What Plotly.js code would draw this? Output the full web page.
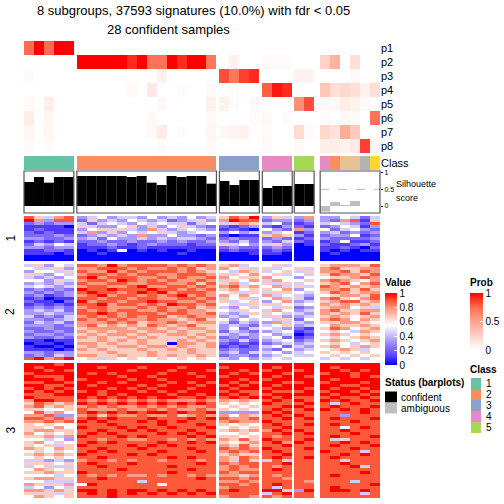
<!DOCTYPE html>
<html><head><meta charset="utf-8">
<script src="https://cdn.plot.ly/plotly-3.0.1.min.js"></script>
<style>html,body{margin:0;padding:0;background:#fff}</style>
</head><body><div id="chart" style="width:504px;height:504px"></div>
<script>
// ---------------- data ----------------
const groupSizes = [5, 14, 4, 3, 2, 6];
const sampleClass = [1,1,1,1,1, 2,2,2,2,2,2,2,2,2,2,2,2,2,2, 3,3,3,3, 4,4,4, 5,5, 4,2,7,7,8,6];
const sampleStatus = [
  'confident','confident','confident','confident','confident',
  'confident','confident','confident','confident','confident','confident','confident','confident','confident','confident','confident','confident','confident','confident',
  'confident','confident','confident','confident','confident','confident','confident','confident','confident',
  'ambiguous','ambiguous','ambiguous','ambiguous','ambiguous','ambiguous'];
const silhouette = [0.72,0.87,0.70,0.87,0.87,
  0.90,0.90,0.90,0.90,0.90,0.87,0.90,0.70,0.63,0.90,0.87,0.90,0.90,0.67,
  0.75,0.63,0.78,0.78, 0.54,0.60,0.60, 0.66,0.66,
  -0.17,0.12,0.03,0.15,0,0];
const probLabels = ['p1','p2','p3','p4','p5','p6','p7','p8'];
const p1 = [0.75,1,0.75,1,1, 0,0,0,0,0,0,0,0,0,0,0,0,0,0, 0,0,0,0, 0,0,0, 0,0, 0,0,0,0,0,0];
const p2 = [0,0,0,0,0, 1,1,1,1,1,0.9,1,0.72,0.72,1,0.9,1,1,0.7, 0,0.08,0,0, 0.04,0.02,0.02, 0,0, 0.25,0.42,0,0.18,0,0];
const p3 = [0.03,0,0,0,0, 0,0,0,0,0,0,0,0,0.08,0,0,0,0,0, 0.82,0.7,0.85,0.9, 0,0,0, 0.08,0.07, 0,0,0,0.03,0,0];
const p4 = [0,0,0,0,0, 0,0,0,0,0,0.04,0,0.12,0,0,0.02,0,0,0.03, 0,0.02,0,0, 0.78,0.95,0.9, 0,0, 0.32,0.18,0.22,0.18,0.08,0.18];
const p5 = [0.03,0,0.1,0,0, 0,0,0,0,0,0,0,0,0.04,0,0,0,0,0.08, 0.08,0.02,0,0.03, 0,0,0, 0.58,0.82, 0.04,0.04,0.1,0.08,0.02,0];
const p6 = [0.1,0,0.05,0,0, 0,0,0,0,0,0,0,0.04,0,0,0,0,0,0.04, 0,0,0,0.02, 0.04,0,0.02, 0,0, 0.02,0,0.04,0.03,0,0.72];
const p7 = [0.05,0,0.05,0,0, 0,0,0,0,0,0,0,0.03,0.1,0,0.02,0,0,0.05, 0.04,0.06,0.07,0, 0.02,0,0, 0.2,0.04, 0.22,0.16,0.45,0.3,0,0];
const p8 = [0.03,0,0.02,0,0, 0,0,0,0,0,0,0,0,0.03,0,0,0,0,0.04, 0,0,0,0, 0.04,0,0, 0.03,0, 0.1,0.1,0.08,0.12,0.85,0.05];
const classNames = ['1','2','3','4','5','6','7','8'];
const classColors = ['#66C2A5','#FC8D62','#8DA0CB','#E78AC3','#A6D854','#FFD92F','#E5C494','#B3B3B3'];
const rowGroupLabels = ['1','2','3'];
// signature values, one digit per sample (0 -> 0, 9 -> 1), groups separated by spaces
const valuesGroup1 = [
"86478 34534435343534 6879 364 37 335424",
"97388 26343543423463 7988 233 23 327816",
"23233 42454354544245 4676 452 12 454328",
"11110 64335634356432 2123 213 21 235413",
"12111 35646437434543 1210 532 73 524532",
"21211 47363545643455 3534 345 12 342323",
"22232 23434373353323 1011 676 31 233512",
"33223 34253343434432 2322 232 12 322223",
"12121 22322322323223 3242 324 21 125112",
"24354 12232123222122 6453 463 01 211231",
"33233 11121121111111 2322 232 00 112102",
"11221 01015010100100 1211 121 00 101011",
"11101 00100000001000 0001 110 00 010000",
"00000 00000000000000 0000 000 00 000000",
"00000 00000000000000 0000 000 00 000000"];
const valuesGroup2 = [
"46354 88797888878787 6745 564 55 677768",
"54463 77888787787867 7564 645 64 786677",
"35546 87797878887876 5476 456 46 778687",
"64354 78878788778887 6657 564 54 687768",
"43435 89788877878778 7566 755 35 566787",
"55364 78879878787787 4657 475 56 787657",
"34343 87788778877868 6745 646 45 678578",
"45434 78877897788787 7867 574 64 876767",
"23232 98898889887878 6756 657 35 778686",
"32323 89887898978887 5646 466 54 687677",
"23123 78978878789787 7575 745 43 567768",
"12011 88788788778878 4564 574 62 786578",
"21102 97887889887787 6456 357 34 678867",
"12121 88978878798878 5646 665 45 767676",
"23232 78877787877867 4354 546 23 677564",
"34342 87878877878776 5465 475 34 786677",
"33433 88987888788778 4346 654 43 767686",
"42324 78787878867877 3435 463 34 676567",
"33234 87878778776786 5354 546 25 787576",
"24342 77787867787677 4243 374 43 667765",
"33323 78676768767866 3432 456 34 576676",
"22322 67777677676776 3524 543 21 687567",
"32232 76767767767667 2432 345 12 565476",
"23323 67677676677676 4343 534 01 676565",
"32232 76766767666767 2323 452 12 565676",
"11011 66767676667676 3242 345 23 676567",
"01101 77676676607767 2121 234 34 565456",
"10010 67667767767667 1212 452 43 675676",
"11101 76766676676766 2322 325 34 567645",
"33233 66676667666766 3424 453 45 656565",
"23243 77667667676676 2332 345 44 565656",
"89789 56465655656565 4353 454 55 454545"];
const valuesGroup3 = [
"99989 99999999999999 9999 999 99 999999",
"98999 99899989998999 8999 989 99 989999",
"99898 99999899989998 9989 899 89 998989",
"89999 98989999899899 9898 998 99 899899",
"98889 99998998999989 8999 989 98 999898",
"99989 89999899899999 9989 899 99 989999",
"88998 99898999989898 9898 998 89 899989",
"99889 98999989899989 8989 989 99 998899",
"89898 99989898999899 9899 899 98 989989",
"98989 89899989898999 8988 988 89 899898",
"88899 99898999989989 9898 899 99 989989",
"98888 98989898998898 8989 989 88 898898",
"79988 87878787877787 7676 898 98 989889",
"68767 98989898989898 6565 988 89 848988",
"78676 78787787878778 5656 889 98 898889",
"66556 87778778787787 6565 898 89 989898",
"58475 89898989989889 3333 989 88 888898",
"77833 78687787786787 7576 898 98 883888",
"88787 89898889888989 8778 889 89 898889",
"77878 98988898989888 7877 988 88 888988",
"65655 88898888988898 6565 898 89 898888",
"66575 98889898898889 5656 889 88 885898",
"67766 88988989888988 6767 798 98 889888",
"75656 89898888989898 5565 889 89 888988",
"66747 98889898888989 6656 878 88 898889",
"55453 88788778878787 7686 988 89 846888",
"67565 89898888988989 6567 897 98 889898",
"65646 98888989898888 7686 889 88 898889",
"76576 88988898888988 8787 988 89 888988",
"56565 89898888988898 7878 898 88 988848",
"67676 98888989888888 6766 889 88 889898",
"56565 88988888898988 7687 898 89 898888",
"44343 78878788788878 7486 484 88 884888",
"66656 89888988888898 8788 889 88 889888",
"45444 88988888898888 7878 878 88 888948",
"57656 88889888888988 7877 898 88 888888",
"66766 98888888898888 8788 888 88 888898",
"55545 87878778788787 7767 878 88 898888",
"67766 88988888888898 8878 887 88 888888",
"55444 88888848888888 7787 888 87 888488",
"76667 59888888588888 8878 898 88 888889",
"45354 88888888888888 7888 848 88 898888",
"77676 99898998989898 8988 994 39 899898",
"66646 89898989898989 8888 489 88 888848",
"57656 88898888888888 7887 878 88 888888"];

// ---------------- geometry (pixels) ----------------
const colW = 9.97, colGaps = [3,3,3,2,6], xStart = 24;
const probTop = 41, probRowH = 14;
const classTop = 156, classBottom = 170;
const silTop = 171, silBottom = 213, silMin = -0.21, silMax = 1.05;
const mainTop = 216, mainRowH = 3, mainGapRows = 1;

const xEdges = [xStart], xCenters = [], groupSpans = [];
let xc = xStart;
groupSizes.forEach((n, g) => {
  const s = xc;
  for (let i = 0; i < n; i++) { xCenters.push(xc + colW / 2); xc += colW; xEdges.push(xc); }
  groupSpans.push([s, xc]);
  if (g < groupSizes.length - 1) { xc += colGaps[g]; xEdges.push(xc); }
});
const xEnd = xc;
function withGaps(vals) {
  const out = []; let k = 0;
  groupSizes.forEach((n, g) => {
    for (let i = 0; i < n; i++) out.push(vals[k++]);
    if (g < groupSizes.length - 1) out.push(null);
  });
  return out;
}
function parseRow(s) {
  const parts = s.trim().split(/\s+/);
  if (parts.length !== groupSizes.length) throw new Error('bad row ' + s);
  const vals = [];
  parts.forEach((p, g) => {
    if (p.length !== groupSizes[g]) throw new Error('bad group len in ' + s);
    for (const ch of p) vals.push(parseInt(ch, 10) / 9);
  });
  return withGaps(vals);
}
const mainZ = [], mainY = [mainTop], groupCenters = [];
let yc = mainTop;
[valuesGroup1, valuesGroup2, valuesGroup3].forEach((grp, gi) => {
  const s = yc;
  grp.forEach(r => { mainZ.push(parseRow(r)); yc += mainRowH; mainY.push(yc); });
  groupCenters.push((s + yc) / 2);
  if (gi < 2) { mainZ.push(new Array(xEdges.length - 1).fill(null)); yc += mainRowH * mainGapRows; mainY.push(yc); }
});

const probZ = [p1,p2,p3,p4,p5,p6,p7,p8].map(withGaps);
const probY = probLabels.map((_, i) => probTop + i * probRowH).concat([probTop + probLabels.length * probRowH]);

const valueScale = [[0,'#0000FF'],[0.1375,'#5F47FF'],[0.275,'#927EFF'],[0.4125,'#C8BDFF'],[0.55,'#FFFFFF'],
                    [0.6625,'#FFCFC2'],[0.775,'#FF9C84'],[0.8875,'#FF5A3C'],[1,'#FF0000']];
const probScale = [[0,'#FFFFFF'],[0.25,'#FFD2C6'],[0.5,'#FFA38D'],[0.75,'#FF6B52'],[1,'#FF0000']];
const classScale = [];
classColors.forEach((c, k) => { classScale.push([k / classColors.length, c]); classScale.push([(k + 1) / classColors.length, c]); });

const FONT = 'Liberation Sans, Arial, Helvetica, sans-serif';
const traces = [
  { type:'heatmap', x:xEdges, y:probY, z:probZ, zmin:0, zmax:1, colorscale:probScale, hoverinfo:'skip',
    colorbar:{ x:470/504, xanchor:'left', y:(504-293)/504, yanchor:'top', len:57, lenmode:'pixels',
      thickness:13, thicknessmode:'pixels', outlinewidth:0, xpad:0, ypad:0,
      tickvals:[0,0.5,1], ticktext:['0','0.5','1'], ticks:'inside', ticklen:3, tickcolor:'#fff',
      tickfont:{size:10, family:FONT, color:'#000'} } },
  { type:'heatmap', x:xEdges, y:[classTop, classBottom], z:[withGaps(sampleClass)], zmin:0.5, zmax:8.5,
    colorscale:classScale, showscale:false, hoverinfo:'skip' },
  { type:'heatmap', x:xEdges, y:mainY, z:mainZ, zmin:0, zmax:1, colorscale:valueScale, hoverinfo:'skip',
    colorbar:{ x:385/504, xanchor:'left', y:(504-293)/504, yanchor:'top', len:72, lenmode:'pixels',
      thickness:12, thicknessmode:'pixels', outlinewidth:0, xpad:0, ypad:0,
      tickvals:[0,0.2,0.4,0.6,0.8,1], ticktext:['0','0.2','0.4','0.6','0.8','1'], ticks:'inside', ticklen:3, tickcolor:'#fff',
      tickfont:{size:10, family:FONT, color:'#000'} } },
  { type:'bar', x:xCenters, y:silhouette, width:colW, xaxis:'x', yaxis:'y2', hoverinfo:'skip',
    marker:{ color: sampleStatus.map(s => s === 'confident' ? '#000000' : '#BEBEBE'), line:{width:0} } }
];

const shapes = [];
groupSpans.forEach(([a, b]) => {
  shapes.push({ type:'line', xref:'x', yref:'y2', x0:a, x1:b, y0:0.5, y1:0.5, layer:'below',
    line:{ color:'#BBBBBB', width:1, dash:'dash' } });
  shapes.push({ type:'rect', xref:'x', yref:'y', x0:a, x1:b, y0:silTop, y1:silBottom,
    line:{ color:'#555555', width:1.2 }, fillcolor:'rgba(0,0,0,0)' });
});
const statusItems = [['confident','#000000'],['ambiguous','#BEBEBE']];
statusItems.forEach(([t, c], i) => {
  shapes.push({ type:'rect', xref:'x', yref:'y', x0:385, x1:397, y0:391.5 + i * 11, y1:402.5 + i * 11, fillcolor:c, line:{width:0} });
});
classNames.slice(0, 5).forEach((t, i) => {
  shapes.push({ type:'rect', xref:'x', yref:'y', x0:471, x1:481, y0:378 + i * 11, y1:389 + i * 11, fillcolor:classColors[i], line:{width:0} });
});

const ann = [];
function A(text, x, y, o) { ann.push(Object.assign({ text, x, y, xref:'x', yref:'y', showarrow:false,
  xanchor:'left', yanchor:'middle', font:{ size:10, family:FONT, color:'#000' }, borderpad:0 }, o || {})); }
A('8 subgroups, 37593 signatures (10.0%) with fdr &lt; 0.05', 193, 10, { xanchor:'center', font:{size:13, family:FONT, color:'#000'} });
A('28 confident samples', 168, 29, { xanchor:'center', font:{size:13, family:FONT, color:'#000'} });
probLabels.forEach((t, i) => A(t, 380, probTop + (i + 0.5) * probRowH, { font:{size:11, family:FONT, color:'#000'} }));
A('Class', 380, 163, { font:{size:11, family:FONT, color:'#000'} });
A('Silhouette', 395, 184, { font:{size:9, family:FONT, color:'#000'} });
A('score', 395, 198, { font:{size:9, family:FONT, color:'#000'} });
rowGroupLabels.forEach((t, i) => A(t, 10, groupCenters[i], { xanchor:'center', textangle:-90, font:{size:12, family:FONT, color:'#000'} }));
A('<b>Value</b>', 384, 282);
A('<b>Prob</b>', 469, 282);
A('<b>Status (barplots)</b>', 384, 382);
A('<b>Class</b>', 469, 369);
statusItems.forEach(([t], i) => A(t, 400, 397 + i * 11));
classNames.slice(0, 5).forEach((t, i) => A(t, 485, 383.5 + i * 11));

const layout = {
  width:504, height:504, margin:{l:0, r:0, t:0, b:0}, paper_bgcolor:'#FFFFFF', plot_bgcolor:'rgba(0,0,0,0)',
  showlegend:false, font:{family:FONT, color:'#000'},
  xaxis:{ range:[0,504], domain:[0,1], visible:false, fixedrange:true },
  yaxis:{ range:[504,0], domain:[0,1], visible:false, fixedrange:true },
  yaxis2:{ domain:[(504 - silBottom) / 504, (504 - silTop) / 504], range:[silMin, silMax], anchor:'free',
    position:xEnd / 504, side:'right', showgrid:false, zeroline:false, showline:false,
    tickvals:[0,0.5,1], ticktext:['0','0.5','1'], ticks:'outside', ticklen:2, tickcolor:'#000',
    tickfont:{size:7, family:FONT, color:'#000'}, fixedrange:true },
  shapes, annotations:ann
};
Plotly.newPlot('chart', traces, layout, { staticPlot:true, displayModeBar:false });
</script>
</body></html>
